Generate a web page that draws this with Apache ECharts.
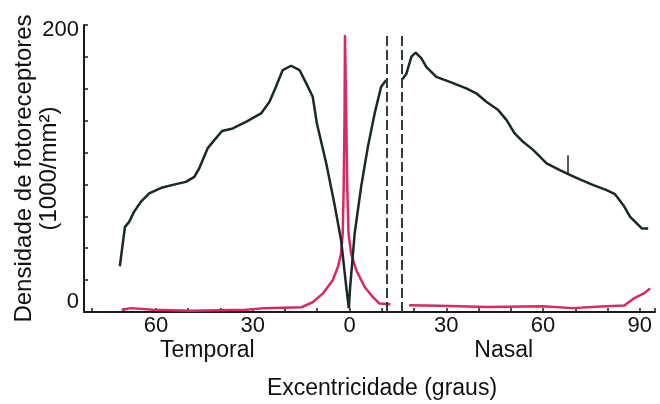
<!DOCTYPE html>
<html>
<head>
<meta charset="utf-8">
<script src="https://cdn.jsdelivr.net/npm/echarts@6/dist/echarts.min.js"></script>
<style>html,body{margin:0;padding:0;background:#fff}#c{width:660px;height:404px}</style>
</head>
<body>
<div id="c"></div>
<script>
// Rods (black) – eccentricity in degrees (negative = temporal), density in 1000/mm²
var rodEcc = [-71.2,-69.6,-68.3,-66.8,-64.7,-62.1,-58.0,-53.8,-50.7,-48.1,-46.6,-44.0,-41.9,-39.5,-36.2,-32.1,-27.4,-24.8,-22.8,-20.7,-18.1,-15.5,-13.4,-11.4,-10.1,-7.2,-4.7,-2.6,-1.0,-0.2,0.2,1.6,3.6,5.7,7.8,9.8,11.4,null,16.2,17.6,19.2,20.5,22.3,23.8,26.9,31.1,36.2,39.3,42.4,46.1,48.7,51.2,53.8,57.0,61.1,65.2,67.8,71.4,75.6,79.7,82.3,84.9,87.0,90.6,92.6];
var rodDensity = [31.9,59.3,62.8,69.8,76.7,82.6,86.8,89.1,90.7,94.2,100.0,114.0,119.8,126.1,127.9,132.5,138.4,146.5,157.0,168.6,171.6,168.6,159.3,150.0,131.4,103.5,75.6,50.0,17.4,2.6,17.4,54.7,87.2,115.1,138.4,157.0,161.6,null,161.6,165.8,177.9,180.7,176.8,170.9,163.9,160.4,155.8,152.4,146.5,140.7,133.7,124.4,118.6,112.8,103.5,98.8,96.1,92.4,88.4,84.9,82.1,74.4,66.3,58.2,58.2];
// Cones (red)
var coneEcc = [-70.6,-67.7,-60.9,-49.4,-32.1,-26.3,-14.9,-11.4,-8.3,-5.2,-3.6,-2.6,-2.1,-1.8,-1.55,-1.4,-1.0,-0.7,-0.3,0.5,2.1,4.7,7.2,9.3,12.7,null,18.5,28.0,42.7,59.9,69.1,79.5,85.2,88.0,91.1,93.2];
var coneDensity = [1.5,2.7,1.5,0.9,1.5,2.7,3.3,6.8,12.8,22.1,31.4,40.7,54.7,87.2,133.7,193.0,133.7,87.2,54.7,40.7,29.1,17.4,10.5,5.9,5.4,null,4.7,4.3,3.5,4.0,2.7,4.0,4.5,9.3,12.8,16.3];
// Blind spot borders (dashed) and small marker on rod curve
var blindSpotEcc = [11.4, 16.2];
var blindSpotTop = 193;
var markerEcc = 67.8;
var markerRange = [96.1, 109.3];
// Axis tick labels
var xTickLabels = [-60, -30, 0, 30, 60, 90];
var yTickLabels = [0, 200];
var regionNames = ['Temporal', 'Nasal'];
var regionPos = [-44.1, 47.8];

function zip(a, b) { return a.map(function (v, i) { return v === null ? [null, null] : [v, b[i]]; }); }

var FONT = '"Liberation Sans", Arial, sans-serif';
var chart = echarts.init(document.getElementById('c'), null, {renderer: 'canvas'});
chart.setOption({
  animation: false,
  backgroundColor: '#ffffff',
  grid: {left: 84, right: 5, top: 25, bottom: 92, containLabel: false, outerBoundsMode: 'none'},
  xAxis: [{
    type: 'value', min: -82.3, max: 94.7, minInterval: 10, maxInterval: 10,
    axisLine: {onZero: false, lineStyle: {color: '#1a1a1a', width: 2}},
    axisTick: {inside: true, length: 4, lineStyle: {color: '#1a1a1a', width: 1.5}},
    splitLine: {show: false},
    axisLabel: {
      margin: 3, color: '#111', fontFamily: FONT, fontSize: 22,
      formatter: function (v) { return xTickLabels.indexOf(v) >= 0 ? String(Math.abs(v)) : ''; }
    },
    name: 'Excentricidade (graus)', nameLocation: 'middle', nameGap: 65, nameMoveOverlap: false,
    nameTextStyle: {color: '#111', fontFamily: FONT, fontSize: 23, padding: [0, 0, 0, 25]}
  }, {
    type: 'value', min: -82.3, max: 94.7, position: 'bottom',
    axisLine: {show: false, onZero: false}, axisTick: {show: false}, splitLine: {show: false},
    axisLabel: {
      customValues: regionPos, margin: 27, color: '#111', fontFamily: FONT, fontSize: 23,
      formatter: function (v) { return regionNames[regionPos.indexOf(v)] || ''; }
    }
  }],
  yAxis: {
    type: 'value', min: 0, max: 200, interval: 200 / 9,
    axisLine: {show: true, onZero: false, lineStyle: {color: '#1a1a1a', width: 2}},
    axisTick: {show: true, inside: true, length: 4, lineStyle: {color: '#1a1a1a', width: 1.5}},
    splitLine: {show: false},
    axisLabel: {
      margin: 5, color: '#111', fontFamily: FONT, fontSize: 22,
      formatter: function (v) {
        if (v === yTickLabels[1]) return '{t|' + v + '}';
        if (v === yTickLabels[0]) return '{b|' + v + '}';
        return '';
      },
      rich: {
        t: {fontFamily: FONT, fontSize: 22, color: '#111', padding: [10, 0, 0, 0]},
        b: {fontFamily: FONT, fontSize: 22, color: '#111', padding: [0, 0, 20, 0]}
      }
    },
    name: 'Densidade de fotoreceptores\n(1000/mm²)', nameLocation: 'middle', nameGap: 22, nameMoveOverlap: false,
    nameTextStyle: {color: '#111', fontFamily: FONT, fontSize: 24, lineHeight: 25}
  },
  series: [{
    type: 'line', data: zip(coneEcc, coneDensity), showSymbol: false, connectNulls: false,
    lineStyle: {color: '#d82a5e', width: 2.5}, z: 3
  }, {
    type: 'line', data: zip(rodEcc, rodDensity), showSymbol: false, connectNulls: false,
    lineStyle: {color: '#1b2828', width: 2.5}, z: 4,
    markLine: {
      silent: true, symbol: ['none', 'none'], label: {show: false},
      lineStyle: {color: '#1b2828', width: 1.5, type: 'solid'},
      data: [[{coord: [markerEcc, markerRange[0]]}, {coord: [markerEcc, markerRange[1]]}]]
    }
  }, {
    type: 'line', data: [], showSymbol: false,
    markLine: {
      silent: true, symbol: ['none', 'none'], label: {show: false},
      lineStyle: {color: '#2e3d3d', width: 2, type: [10, 4]},
      data: blindSpotEcc.map(function (e) { return [{coord: [e, 0]}, {coord: [e, blindSpotTop]}]; })
    }
  }]
});
</script>
</body>
</html>
